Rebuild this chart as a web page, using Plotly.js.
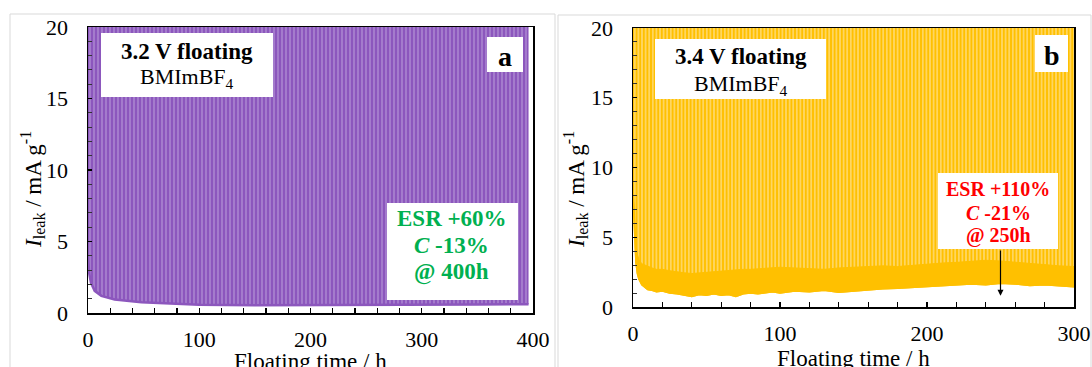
<!DOCTYPE html>
<html>
<head>
<meta charset="utf-8">
<script src="https://cdn.plot.ly/plotly-3.0.1.min.js"></script>
<style>html,body{margin:0;padding:0;background:#fff;}#chart{width:1092px;height:367px;}</style>
</head>
<body>
<div id="chart"></div>
<script>
// ---- Data ----
// Panel a: 3.2 V floating, baseline (minimum) leakage current vs time; periodic spikes exceed 20 mA/g
const timeA = [0, 1, 2.7, 6, 12, 24, 48, 72, 100, 150, 200, 250, 300, 350, 396];
const baseA = [4.0, 2.8, 2.1, 1.55, 1.2, 0.95, 0.75, 0.65, 0.58, 0.55, 0.55, 0.55, 0.57, 0.6, 0.62];
// Panel b: 3.4 V floating, lower and upper edge of the noisy baseline band
const timeB = [0, 1, 2, 3, 4, 6, 8, 10, 13, 16, 20, 25, 30, 35, 40, 45, 50, 55, 60, 65, 70, 75, 80, 85, 90, 95, 100,
               110, 120, 130, 140, 150, 160, 170, 180, 190, 200, 210, 220, 230, 240, 250, 260, 270, 280, 290, 300];
const lowB  = [8.0, 5.0, 3.2, 2.4, 2.0, 1.6, 1.4, 1.25, 1.2, 1.1, 1.15, 1.0, 0.95, 0.85, 0.75, 0.9, 0.85, 0.95, 0.85, 0.9, 0.75, 0.95, 1.0, 0.95, 1.05, 1.1, 1.0,
               1.15, 1.1, 1.2, 1.05, 1.15, 1.25, 1.3, 1.35, 1.4, 1.45, 1.55, 1.6, 1.65, 1.6, 1.7, 1.65, 1.55, 1.6, 1.5, 1.45];
const highB = [9.0, 6.0, 4.5, 3.8, 3.4, 3.1, 3.0, 2.9, 2.8, 2.7, 2.7, 2.6, 2.5, 2.45, 2.4, 2.45, 2.5, 2.55, 2.6, 2.6, 2.65, 2.7, 2.7, 2.75, 2.8, 2.8, 2.85,
               2.8, 2.75, 2.7, 2.8, 2.85, 2.9, 2.95, 2.9, 3.0, 3.1, 3.15, 3.2, 3.3, 3.35, 3.3, 3.2, 3.1, 3.0, 2.95, 2.9];
const spikePeak = 22;   // cycling spikes go beyond the 20 mA/g axis limit
const xTicksA = [0, 100, 200, 300, 400];
const xTicksB = [0, 100, 200, 300];
const yTicks = [0, 5, 10, 15, 20];

// ---- helpers (pixel -> paper) ----
const W = 1092, H = 367;
const px = x => x / W;
const py = y => 1 - y / H;

const purple = '#8c57bd';
const purpleLight = '#b494d6';
const yellow = '#ffc000';
const yellowLight = '#ffe08a';
const FONT = '"Liberation Serif", "Times New Roman", serif';

const traces = [
  { x: timeA, y: baseA, xaxis: 'x', yaxis: 'y', mode: 'lines', line: { color: purple, width: 2.5 }, hoverinfo: 'skip' },
  { x: timeA, y: timeA.map(() => spikePeak), xaxis: 'x', yaxis: 'y', mode: 'lines', line: { width: 0, color: purple },
    fill: 'tonexty', fillcolor: purple,
    fillpattern: { shape: '|', bgcolor: purple, fgcolor: purpleLight, size: 4, solidity: 0.3 }, hoverinfo: 'skip' },
  { x: timeB, y: lowB, xaxis: 'x2', yaxis: 'y2', mode: 'lines', line: { color: yellow, width: 1.5 }, hoverinfo: 'skip' },
  { x: timeB, y: timeB.map(() => spikePeak), xaxis: 'x2', yaxis: 'y2', mode: 'lines', line: { width: 0, color: yellow },
    fill: 'tonexty', fillcolor: yellow,
    fillpattern: { shape: '|', bgcolor: yellow, fgcolor: yellowLight, size: 3.6, solidity: 0.35 }, hoverinfo: 'skip' },
  { x: timeB, y: lowB, xaxis: 'x2', yaxis: 'y2', mode: 'lines', line: { color: yellow, width: 1.5 }, hoverinfo: 'skip' },
  { x: timeB, y: highB, xaxis: 'x2', yaxis: 'y2', mode: 'lines', line: { color: yellow, width: 1 },
    fill: 'tonexty', fillcolor: yellow, hoverinfo: 'skip' }
];

function xax(domain, anchor, range, ticks) {
  return {
    domain, anchor, range, tickvals: ticks, ticktext: ticks.map(String),
    showline: true, linecolor: '#000', linewidth: 1.5, mirror: true,
    ticks: 'inside', ticklen: 5, tickwidth: 1.2, tickcolor: '#000',
    minor: { dtick: 20, ticks: 'inside', ticklen: 5, tickwidth: 1.2, tickcolor: '#000', showgrid: false },
    showgrid: false, zeroline: false, fixedrange: true,
    tickfont: { family: FONT, size: 22, color: '#000' }, ticklabelstandoff: 6
  };
}
function yax(domain, anchor) {
  return {
    domain, anchor, range: [0, 20], tickvals: yTicks, ticktext: yTicks.map(String),
    showline: true, linecolor: '#000', linewidth: 1.5, mirror: true,
    ticks: 'inside', ticklen: 4, tickwidth: 1.2, tickcolor: '#000',
    minor: { dtick: 1, ticks: 'inside', ticklen: 4, tickwidth: 1, tickcolor: '#333', showgrid: false },
    showgrid: false, zeroline: false, fixedrange: true,
    tickfont: { family: FONT, size: 22, color: '#000' }, ticklabelstandoff: 14
  };
}

function box(x0, y0, x1, y1) {
  return { type: 'rect', xref: 'paper', yref: 'paper', x0: px(x0), x1: px(x1), y0: py(y1), y1: py(y0),
           fillcolor: '#fff', line: { width: 0 }, layer: 'above' };
}
function txt(x, y, text, size, color, extra) {
  return Object.assign({ xref: 'paper', yref: 'paper', x: px(x), y: py(y), text, showarrow: false,
    xanchor: 'center', yanchor: 'middle', font: { family: FONT, size, color: color || '#000' } }, extra || {});
}

const green = '#00b050';
const red = '#ff0000';

const layout = {
  width: W, height: H,
  margin: { l: 0, r: 0, t: 0, b: 0, pad: 0 },
  paper_bgcolor: '#fff', plot_bgcolor: '#fff',
  font: { family: FONT },
  showlegend: false,
  xaxis: xax([px(88), px(533)], 'y', [0, 400], xTicksA),
  yaxis: yax([py(313), py(27)], 'x'),
  xaxis2: xax([px(633), px(1074)], 'y2', [0, 300], xTicksB),
  yaxis2: yax([py(307), py(28)], 'x2'),
  shapes: [
    { type: 'rect', xref: 'paper', yref: 'paper', x0: px(10), x1: px(555), y0: py(380), y1: py(14),
      line: { color: '#d9d9d9', width: 1 }, layer: 'below' },
    { type: 'rect', xref: 'paper', yref: 'paper', x0: px(558), x1: px(1091), y0: py(380), y1: py(15),
      line: { color: '#d9d9d9', width: 1 }, layer: 'below' },
    box(101, 33, 273, 97),
    box(487, 37, 523, 72),
    box(387, 203, 518, 300),
    box(655, 39, 826, 99),
    box(1035, 35, 1068, 72),
    box(938, 173, 1058, 249)
  ],
  annotations: [
    txt(187, 52, '<b>3.2 V floating</b>', 23),
    txt(187, 78, 'BMImBF<sub>4</sub>', 22),
    txt(505, 56, '<b>a</b>', 28),
    txt(452, 218, '<b>ESR +60%</b>', 23, green),
    txt(452, 245, '<b><i>C</i> -13%</b>', 23, green),
    txt(452, 272, '<b>@ 400h</b>', 23, green),
    txt(741, 57, '<b>3.4 V floating</b>', 23),
    txt(741, 85, 'BMImBF<sub>4</sub>', 22),
    txt(1052, 55, '<b>b</b>', 28),
    txt(998, 189, '<b>ESR +110%</b>', 20, red),
    txt(998, 213, '<b><i>C</i> -21%</b>', 20, red),
    txt(998, 236, '<b>@ 250h</b>', 20, red),
    { xref: 'x2', yref: 'y2', x: 250, y: 0.8, axref: 'x2', ayref: 'y2', ax: 250, ay: 4.15,
      text: '', showarrow: true, arrowhead: 2, arrowsize: 1, arrowwidth: 1.2, arrowcolor: '#000', standoff: 0, startstandoff: 0 },
    txt(32, 190, '<i>I</i><sub>leak</sub> / mA g<sup>-1</sup>', 23, '#000', { textangle: -90 }),
    txt(575, 190, '<i>I</i><sub>leak</sub> / mA g<sup>-1</sup>', 23, '#000', { textangle: -90 }),
    txt(310, 361, 'Floating time / h', 23),
    txt(853, 358, 'Floating time / h', 23)
  ]
};

Plotly.newPlot('chart', traces, layout, { staticPlot: true, displayModeBar: false });
</script>
</body>
</html>
